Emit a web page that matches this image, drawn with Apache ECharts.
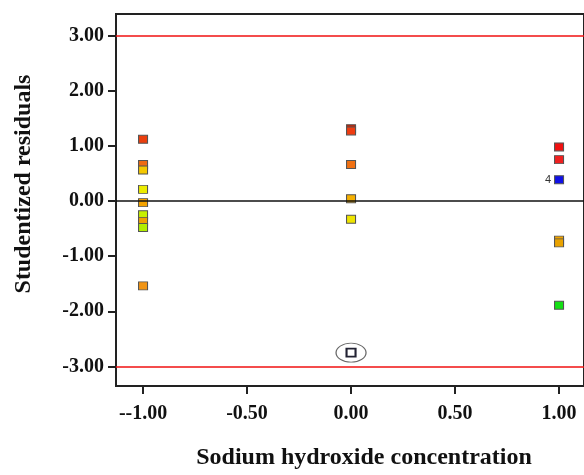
<!DOCTYPE html>
<html>
<head>
<meta charset="utf-8">
<script src="https://cdn.jsdelivr.net/npm/echarts@6/dist/echarts.min.js"></script>
<style>
  html, body { margin: 0; padding: 0; background: #fff; }
  #main { width: 584px; height: 475px; }
</style>
</head>
<body>
<div id="main"></div>
<script>
// 数据
var xValues = [-1, -1, -1, -1, -1, -1, -1, -1, -1,
               0, 0, 0, 0, 0,
               1, 1, 1, 1, 1, 1];
var residuals = [1.12, 0.66, 0.56, 0.21, -0.03, -0.25, -0.37, -0.48, -1.54,
                 1.31, 1.27, 0.66, 0.04, -0.33,
                 0.98, 0.75, 0.385, -0.71, -0.76, -1.89];
// 点颜色
var pointColors = ['#ea3f0e', '#ee6a12', '#f4c800', '#ecec00', '#f5a300', '#c6f000', '#f0a200', '#b2ee00', '#f19414',
                   '#c82000', '#ef3c10', '#f07012', '#f5b000', '#eee400',
                   '#f01010', '#ef2020', '#1010e6', '#f0a400', '#e9a200', '#14e014'];
var outlierX = [0];
var outlierY = [-2.75];
var labeledIndex = 16, labeledText = '4';

var xTicks = [-1, -0.5, 0, 0.5, 1];
var xTickLabels = ['--1.00', '-0.50', '0.00', '0.50', '1.00'];
var yTicks = [-3, -2, -1, 0, 1, 2, 3];
var yTickLabels = ['-3.00', '-2.00', '-1.00', '0.00', '1.00', '2.00', '3.00'];
var limits = [3, -3];

var font = 'Liberation Serif';

var points = [];
for (var i = 0; i < xValues.length; i++) {
    var item = {
        value: [xValues[i], residuals[i]],
        itemStyle: { color: pointColors[i] }
    };
    if (i === labeledIndex) {
        item.label = {
            show: true, position: 'left', distance: 3,
            formatter: labeledText, color: '#333', fontSize: 11, fontFamily: 'Liberation Sans'
        };
    }
    points.push(item);
}

var chart = echarts.init(document.getElementById('main'));
var option = {
    animation: false,
    grid: {
        left: 116, right: 0, top: 14, bottom: 81,
        show: true, borderColor: '#222', borderWidth: 2
    },
    xAxis: {
        type: 'value',
        min: -1.13, max: 1.12,
        name: 'Sodium hydroxide concentration',
        nameLocation: 'middle',
        nameGap: 60,
        nameTextStyle: { fontFamily: font, fontWeight: 'bold', fontSize: 24, color: '#111', padding: [0, 0, 0, 28] },
        axisLine: { show: true, onZero: false, lineStyle: { color: '#222', width: 2 } },
        axisTick: { show: true, length: 8, customValues: xTicks, lineStyle: { color: '#222', width: 2 } },
        axisLabel: {
            customValues: xTicks, margin: 18,
            fontFamily: font, fontWeight: 'bold', fontSize: 20, color: '#111',
            formatter: function (v) {
                for (var k = 0; k < xTicks.length; k++) {
                    if (Math.abs(xTicks[k] - v) < 1e-6) return xTickLabels[k];
                }
                return '';
            }
        },
        splitLine: { show: false }
    },
    yAxis: {
        type: 'value',
        min: -3.355, max: 3.39,
        name: 'Studentized residuals',
        nameLocation: 'middle',
        nameGap: 80,
        nameTextStyle: { fontFamily: font, fontWeight: 'bold', fontSize: 24, color: '#111', padding: [0, 0, 0, 32] },
        axisLine: { show: true, onZero: false, lineStyle: { color: '#222', width: 2 } },
        axisTick: { show: true, length: 8, customValues: yTicks, lineStyle: { color: '#222', width: 2 } },
        axisLabel: {
            customValues: yTicks, margin: 12,
            fontFamily: font, fontWeight: 'bold', fontSize: 20, color: '#111',
            formatter: function (v) {
                for (var k = 0; k < yTicks.length; k++) {
                    if (Math.abs(yTicks[k] - v) < 1e-6) return yTickLabels[k];
                }
                return '';
            }
        },
        splitLine: { show: false }
    },
    series: [
        {
            type: 'scatter',
            data: [],
            silent: true,
            markLine: {
                symbol: 'none',
                label: { show: false },
                data: [
                    { yAxis: limits[0], lineStyle: { color: '#f01010', width: 1.5, type: 'solid' } },
                    { yAxis: limits[1], lineStyle: { color: '#f01010', width: 1.5, type: 'solid' } },
                    { yAxis: 0, lineStyle: { color: '#111', width: 1.5, type: 'solid' } }
                ]
            }
        },
        {
            type: 'scatter',
            symbol: 'rect',
            symbolSize: [9, 8],
            itemStyle: { borderColor: '#555', borderWidth: 1, opacity: 1 },
            data: points
        },
        {
            type: 'scatter',
            symbol: 'rect',
            symbolSize: [9, 8],
            itemStyle: { color: '#fff', borderColor: '#223', borderWidth: 2, opacity: 1 },
            data: outlierX.map(function (x, k) { return [x, outlierY[k]]; })
        },
        {
            type: 'scatter',
            symbol: 'path://M0,10 A16,10 0 1,0 32,10 A16,10 0 1,0 0,10 Z',
            symbolSize: [30, 19],
            symbolKeepAspect: false,
            itemStyle: { color: 'rgba(0,0,0,0)', borderColor: '#666', borderWidth: 1, opacity: 1 },
            data: outlierX.map(function (x, k) { return [x, outlierY[k]]; })
        }
    ]
};
chart.setOption(option);
</script>
</body>
</html>
